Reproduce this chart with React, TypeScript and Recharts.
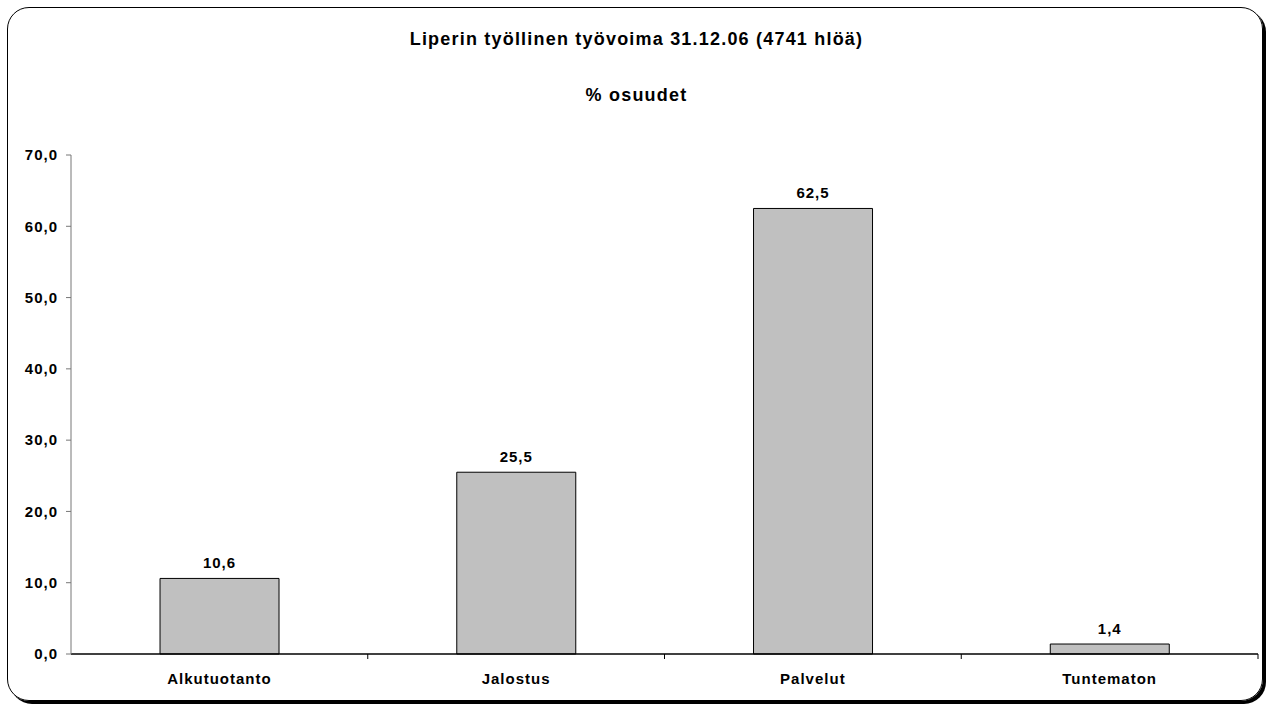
import { BarChart, Bar, XAxis, YAxis, LabelList } from 'recharts'

const categories = ['Alkutuotanto', 'Jalostus', 'Palvelut', 'Tuntematon']
const shares = [10.6, 25.5, 62.5, 1.4]
const yTicks = [0, 10, 20, 30, 40, 50, 60, 70]

const data = categories.map((name, i) => ({ name, osuus: shares[i] }))

const font = 'Arial, "Liberation Sans", sans-serif'
const fmt = (v: number) => v.toFixed(1).replace('.', ',')

// category label plus Excel-style tick mark at the right edge of each band
function CategoryTick(props: any) {
  const { x, y, payload, band } = props
  const half = band / 2
  return (
    <g>
      <line x1={x + half} y1={y - 8} x2={x + half} y2={y - 3} stroke="#000" />
      <text
        x={x}
        y={y + 22}
        textAnchor="middle"
        fontSize={15}
        letterSpacing={1}
        fontWeight="bold"
        fill="#000"
        fontFamily={font}
      >
        {payload.value}
      </text>
    </g>
  )
}

export default function App() {
  const plotLeft = 71
  const plotRight = 1258
  const band = (plotRight - plotLeft) / categories.length
  const titleStyle: React.CSSProperties = {
    position: 'absolute',
    left: 0,
    width: 1273,
    textAlign: 'center',
    fontSize: 18,
    fontWeight: 'bold',
    letterSpacing: 1.2,
  }
  return (
    <div style={{ position: 'absolute', left: 0, top: 0, width: 1273, height: 711, background: '#fff', fontFamily: font }}>
      <div
        style={{
          position: 'absolute',
          left: 7,
          top: 7,
          width: 1256,
          height: 694,
          border: '1.5px solid #000',
          borderRadius: 22,
          boxShadow: '3px 3px 0 #000',
          boxSizing: 'border-box',
        }}
      />
      <div style={{ ...titleStyle, top: 29 }}>Liperin työllinen työvoima 31.12.06 (4741 hlöä)</div>
      <div style={{ ...titleStyle, top: 85 }}>% osuudet</div>
      <div style={{ position: 'absolute', left: 0, top: 0 }}>
        <BarChart
          width={1273}
          height={711}
          data={data}
          margin={{ top: 155, right: 1273 - plotRight, bottom: 27, left: 0 }}
          barCategoryGap="30%"
        >
          <XAxis
            dataKey="name"
            height={30}
            axisLine={{ stroke: '#000', strokeWidth: 1.5 }}
            tickLine={false}
            interval={0}
            tick={<CategoryTick band={band} />}
          />
          <YAxis
            width={plotLeft}
            domain={[0, 70]}
            ticks={yTicks}
            interval={0}
            tickFormatter={fmt}
            axisLine={{ stroke: '#777' }}
            tickLine={{ stroke: '#777' }}
            tickSize={5}
            tickMargin={8}
            tick={{ fontSize: 15, fontWeight: 'bold', fill: '#000', fontFamily: font, letterSpacing: 1 }}
          />
          <Bar dataKey="osuus" fill="#C0C0C0" stroke="#000" strokeWidth={1} isAnimationActive={false}>
            <LabelList
              dataKey="osuus"
              position="top"
              offset={10}
              formatter={(v: any) => fmt(Number(v))}
              style={{ fontSize: 15, fontWeight: 'bold', fill: '#000', fontFamily: font, letterSpacing: 1 }}
            />
          </Bar>
        </BarChart>
      </div>
    </div>
  )
}
